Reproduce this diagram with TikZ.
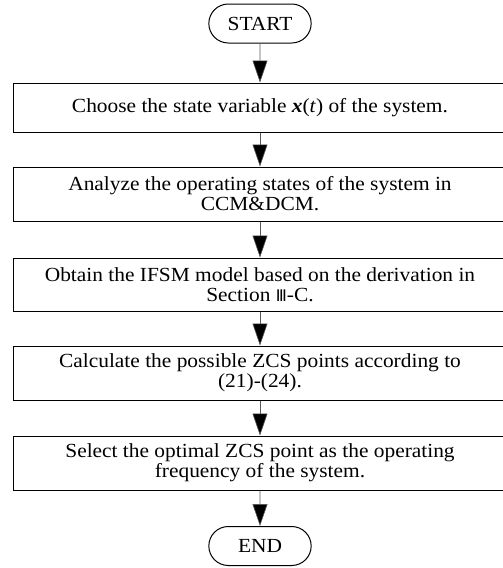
\documentclass[tikz,border=0pt]{standalone}
\usepackage{fontspec}
\setmainfont[FakeStretch=1.07]{Liberation Serif}
\newfontfamily\romfont{DejaVu Sans}
\usetikzlibrary{arrows.meta,shapes.misc}

\tikzset{
  term/.style={draw, rounded rectangle, minimum width=109pt, minimum height=39pt, line width=1pt},
  stepbox/.style={draw, minimum width=494pt, align=center, line width=1pt, inner sep=0pt},
  flow/.style={draw=black!65, line width=0.6pt, -{Triangle[width=15pt,length=22pt,fill=black]}},
}

\begin{document}
\begin{tikzpicture}[x=1pt, y=1pt, font=\fontsize{20}{20}\selectfont]
	\useasboundingbox (0,0) rectangle (503,-568);
	\node[term] (ST) at (260,-23.5) {START};
	\node[stepbox, minimum height=49pt] (BA) at (260,-107.5) {Choose the state variable \textbf{\textit{x}}(\textit{t}) of the system.};
	\node[stepbox, minimum height=54pt] (BB) at (260,-194) {Analyze the operating states of the system in\\CCM\&DCM.};
	\node[stepbox, minimum height=53pt] (BC) at (260,-284.5) {Obtain the IFSM model based on the derivation in\\Section {\romfont\fontsize{16}{20}\selectfont Ⅲ}-C.};
	\node[stepbox, minimum height=54pt] (BD) at (260,-373) {Calculate the possible ZCS points according to\\(21)-(24).};
	\node[stepbox, minimum height=54pt] (BE) at (260,-463) {Select the optimal ZCS point as the operating\\frequency of the system.};
	\node[term] (EN) at (260,-546) {END};

	\draw[flow] (ST) -- (BA);
	\draw[flow] (BA) -- (BB);
	\draw[flow] (BB) -- (BC);
	\draw[flow] (BC) -- (BD);
	\draw[flow] (BD) -- (BE);
	\draw[flow] (BE) -- (EN);
\end{tikzpicture}
\end{document}
